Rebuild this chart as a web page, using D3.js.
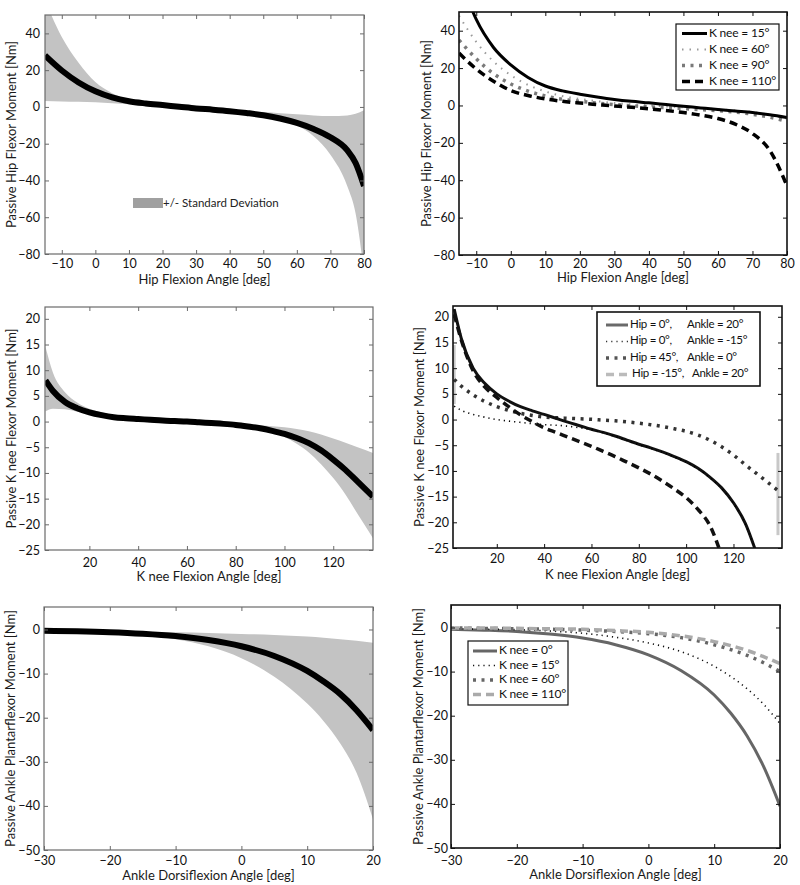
<!DOCTYPE html>
<html>
<head>
<meta charset="utf-8">
<script src="https://cdn.jsdelivr.net/npm/d3@7"></script>
<style>
  body { margin: 0; background: #fff; }
  svg { font-family: Lato, "Open Sans", sans-serif; }
</style>
</head>
<body>
<div id="chart"></div>
<script>
// ---- data ----
// hip, mean +/- sd
const hipX = [-15, -10, -5, 0, 5, 10, 15, 20, 25, 30, 35, 40, 45, 50, 55, 60, 65, 70, 75, 77.5, 80];
const hipMean = [28, 19.8, 13.3, 8.5, 5.2, 3.1, 1.9, 1, 0.1, -0.8, -1.5, -2.3, -3.3, -4.5, -6.3, -8.7, -12, -16.5, -23.5, -30.5, -43];
const hipUpper = [58, 38, 24, 13.5, 7.5, 4, 2.3, 1.3, 0.6, 0, -0.6, -1.3, -2, -2.8, -3.4, -4, -4.6, -5, -4.6, -3.7, -1.8];
const hipLower = [3.2, 3, 2.8, 2.5, 2, 1.5, 1, 0.4, -0.3, -1, -1.8, -2.8, -4, -5.5, -7.5, -10, -16, -26, -43, -58, -90];

// hip, by knee angle
const hipX2 = [-15, -10, -5, 0, 5, 10, 15, 20, 25, 30, 35, 40, 45, 50, 55, 60, 65, 70, 75, 80];
const hipKnee15 = [70, 46, 31, 21.7, 15, 10.4, 7.8, 6, 4.5, 3.2, 2.2, 1.4, 0.5, -0.4, -1.3, -2.2, -3, -3.8, -5, -6.5];
const hipKnee60 = [48, 34, 23.5, 16.2, 11, 7.5, 5, 3.5, 2.3, 1.3, 0.6, 0, -0.5, -1, -1.5, -2, -2.7, -3.5, -5, -7];
const hipKnee90 = [35, 25, 17, 11.5, 7.7, 5.1, 3.3, 2.2, 1.3, 0.5, -0.2, -0.8, -1.2, -1.7, -2.2, -2.8, -3.5, -4.7, -6.3, -8.5];
const hipKnee110 = [28, 19.5, 13, 8, 5.3, 3.5, 2.2, 1.3, 0.5, -0.3, -1, -1.8, -2.7, -3.8, -5.2, -7, -10, -15, -24, -43];
const hipKneeNames = ["K nee = 15°", "K nee = 60°", "K nee = 90°", "K nee = 110°"];

// knee, mean +/- sd
const kneeX = [2, 5, 10, 15, 20, 25, 30, 35, 40, 45, 50, 55, 60, 65, 70, 75, 80, 85, 90, 95, 100, 105, 110, 115, 120, 125, 130, 136.3];
const kneeMean = [8, 6, 3.8, 2.6, 1.8, 1.25, 0.85, 0.65, 0.5, 0.35, 0.2, 0.1, 0, -0.15, -0.3, -0.45, -0.65, -0.95, -1.3, -1.8, -2.4, -3.2, -4.2, -5.6, -7.4, -9.4, -11.7, -14.6];
const kneeUpper = [14.5, 9.6, 5.7, 3.7, 2.5, 1.8, 1.3, 1, 0.75, 0.55, 0.4, 0.25, 0.1, 0, -0.1, -0.25, -0.4, -0.55, -0.7, -0.9, -1.1, -1.45, -1.9, -2.5, -3.3, -4.1, -5, -6.1];
const kneeLower = [2, 2.5, 2.4, 1.9, 1.4, 1, 0.7, 0.5, 0.3, 0.15, 0, -0.1, -0.2, -0.35, -0.5, -0.7, -0.9, -1.2, -1.6, -2.2, -3, -4.3, -6, -8.3, -11, -14.2, -18, -22.7];

// knee, by hip / ankle angle
const kneeX2 = [2, 5, 10, 15, 20, 25, 30, 35, 40, 45, 50, 55, 60, 65, 70, 75, 80, 85, 90, 95, 100, 105, 110, 115, 120, 125, 130, 135, 139];
const kneeH0A20 = [21.5, 15.8, 10, 7, 5, 3.6, 2.5, 1.7, 1, 0.25, -0.5, -1.2, -1.9, -2.5, -3.2, -4, -4.8, -5.5, -6.3, -7.2, -8.2, -9.5, -11.2, -13.3, -16.2, -20.2, -26.4, null, null];
const kneeH0Am15 = [2.6, 1.8, 1, 0.45, 0, -0.3, -0.55, -0.8, -1, -1.1, -1.3, -1.6, -2, -2.6, -3.3, -4.1, -4.9, -5.6, -6.4, -7.3, -8.3, -9.6, -11.3, -13.4, -16.3, -20.3, -26.5, null, null];
const kneeH45A0 = [7.8, 6.5, 4.8, 3.5, 2.5, 1.8, 1.2, 0.8, 0.5, 0.35, 0.25, 0.15, 0.05, -0.1, -0.25, -0.45, -0.7, -1, -1.35, -1.8, -2.3, -3, -4, -5.3, -6.9, -8.8, -10.6, -12.4, -13.9];
const kneeHm15A20 = [20.5, 15.5, 9.5, 6.3, 4.3, 2.5, 0.9, -0.4, -1.6, -2.5, -3.4, -4.3, -5.2, -6.2, -7.2, -8.3, -9.4, -10.6, -12, -13.5, -15.2, -17.5, -20.6, -26.5, null, null, null, null, null];
const kneeEdgeX = [2, 138.8];      // stray grey bars at both edges of the plot
const kneeEdgeTop = [14.5, -6.5];
const kneeEdgeBottom = [3, -22.5];
const kneeHipNames = ["Hip = 0°,", "Hip = 0°,", "Hip = 45°,", "Hip = -15°,"];
const kneeAnkleNames = ["Ankle = 20°", "Ankle = -15°", "Ankle = 0°", "Ankle = 20°"];

// ankle, mean +/- sd
const ankleX = [-30, -25, -20, -15, -10, -5, 0, 5, 10, 12.5, 15, 17.5, 20];
const ankleMean = [-0.3, -0.4, -0.6, -0.95, -1.5, -2.4, -3.8, -6, -9.4, -11.8, -14.6, -18.3, -22.8];
const ankleUpper = [-0.2, -0.3, -0.4, -0.5, -0.65, -0.8, -1, -1.25, -1.6, -1.85, -2.2, -2.55, -3];
const ankleLower = [-0.4, -0.5, -0.8, -1.3, -2.2, -3.8, -6.5, -10.7, -16.8, -20.8, -25.8, -32.5, -43];

// ankle, by knee angle
const ankleKnee0 = [-0.4, -0.6, -0.9, -1.5, -2.4, -3.9, -6.2, -9.8, -15.3, -19.4, -24.6, -31.5, -40.5];
const ankleKnee15 = [-0.3, -0.4, -0.5, -0.8, -1.3, -2.2, -3.5, -5.5, -8.8, -11.1, -13.9, -17.4, -21.8];
const ankleKnee60 = [-0.1, -0.2, -0.3, -0.4, -0.6, -0.9, -1.4, -2.3, -3.9, -5, -6.3, -8, -10];
const ankleKnee110 = [-0.1, -0.1, -0.2, -0.3, -0.4, -0.7, -1.1, -1.9, -3.2, -4.1, -5.2, -6.6, -8.2];
const ankleKneeNames = ["K nee = 0°", "K nee = 15°", "K nee = 60°", "K nee = 110°"];

// ---- line styles ----
const solid = { dash: null, width: 3 };
const fineDot = { dash: "1.2,4", width: 1.6 };
const bigDot = { dash: "3,5.5", width: 3.5 };
const dashed = { dash: "8,5", width: 3.5 };
const lightDot = { dash: "1.5,6", width: 2 };

const svg = d3.select("#chart").append("svg")
    .attr("width", 800)
    .attr("height", 885);

let clipId = 0;

function panel(p) {
    const [l, t, r, b] = p.box;
    const x = d3.scaleLinear().domain(p.xDomain).range([l, r]);
    const y = d3.scaleLinear().domain(p.yDomain).range([b, t]);
    const g = svg.append("g");

    const id = "clip" + (clipId++);
    g.append("clipPath").attr("id", id)
        .append("rect").attr("x", l).attr("y", t).attr("width", r - l).attr("height", b - t);
    const plot = g.append("g").attr("clip-path", "url(#" + id + ")");

    if (p.band) {
        const area = d3.area()
            .x((d, i) => x(p.xs[i]))
            .y0((d, i) => y(p.band[1][i]))
            .y1((d, i) => y(p.band[0][i]))
            .curve(d3.curveMonotoneX);
        plot.append("path").datum(p.xs).attr("d", area).attr("fill", "#c3c3c3");
    }

    if (p.edges) {
        p.edges.x.forEach((ex, i) => {
            plot.append("line")
                .attr("x1", x(ex)).attr("x2", x(ex))
                .attr("y1", y(p.edges.top[i])).attr("y2", y(p.edges.bottom[i]))
                .attr("stroke", "#c8c8c8").attr("stroke-width", 3);
        });
    }

    p.series.forEach(s => {
        const line = d3.line()
            .defined(d => d != null)
            .x((d, i) => x(p.xs[i]))
            .y(d => y(d))
            .curve(d3.curveMonotoneX);
        plot.append("path").datum(s.values)
            .attr("d", line)
            .attr("fill", "none")
            .attr("stroke", s.color)
            .attr("stroke-width", s.style.width)
            .attr("stroke-dasharray", s.style.dash);
    });

    // axes, ticks pointing inward on all four sides
    const tick = 4;
    const bottom = g.append("g").attr("transform", "translate(0," + b + ")")
        .call(d3.axisBottom(x).tickValues(p.xTicks).tickSizeInner(-tick).tickSizeOuter(0).tickPadding(p.xPad));
    const left = g.append("g").attr("transform", "translate(" + l + ",0)")
        .call(d3.axisLeft(y).tickValues(p.yTicks).tickSizeInner(-tick).tickSizeOuter(0).tickPadding(p.yPad));
    const top = g.append("g").attr("transform", "translate(0," + t + ")")
        .call(d3.axisTop(x).tickValues(p.xTicks).tickSizeInner(-tick).tickSizeOuter(0).tickFormat(""));
    const right = g.append("g").attr("transform", "translate(" + r + ",0)")
        .call(d3.axisRight(y).tickValues(p.yTicks).tickSizeInner(-tick).tickSizeOuter(0).tickFormat(""));

    [bottom, left, top, right].forEach(a => {
        a.select(".domain").remove();
        a.selectAll("line").attr("stroke", p.boxColor).attr("stroke-width", 1);
        a.selectAll("text").attr("fill", "#111").style("font-size", "12.5px").style("font-family", "Lato, sans-serif");
    });

    g.append("rect")
        .attr("x", l).attr("y", t).attr("width", r - l).attr("height", b - t)
        .attr("fill", "none")
        .attr("stroke", p.boxColor)
        .attr("stroke-width", p.boxWidth);

    g.append("text")
        .attr("x", (l + r) / 2)
        .attr("y", b + p.xLabelDy)
        .attr("text-anchor", "middle")
        .attr("dominant-baseline", "middle")
        .style("font-size", "13px")
        .attr("fill", "#1a1a1a")
        .text(p.xLabel);

    g.append("text")
        .attr("transform", "translate(" + p.yLabelX + "," + (t + b) / 2 + ") rotate(-90)")
        .attr("text-anchor", "middle")
        .attr("dominant-baseline", "middle")
        .style("font-size", "13px")
        .attr("fill", "#1a1a1a")
        .text(p.yLabel);

    return g;
}

function legend(g, lg) {
    const [l, t, r, b] = lg.box;
    g.append("rect")
        .attr("x", l).attr("y", t).attr("width", r - l).attr("height", b - t)
        .attr("fill", "#fff").attr("stroke", "#111").attr("stroke-width", lg.stroke);
    lg.items.forEach((it, i) => {
        const yy = lg.rows[i];
        g.append("line")
            .attr("x1", lg.lineX[0]).attr("x2", lg.lineX[1])
            .attr("y1", yy).attr("y2", yy)
            .attr("stroke", it.color)
            .attr("stroke-width", it.style.width)
            .attr("stroke-dasharray", it.style.dash);
        it.texts.forEach((tx, j) => {
            g.append("text")
                .attr("x", it.textX[j]).attr("y", yy)
                .attr("dominant-baseline", "middle")
                .style("font-size", lg.fontSize)
                .style("letter-spacing", lg.spacing || "0px")
                .attr("fill", "#111")
                .text(tx);
        });
    });
}

// ---- top left ----
const g1 = panel({
    box: [45, 15, 364, 254],
    xDomain: [-15, 80], yDomain: [-80, 50],
    xTicks: d3.range(-10, 81, 10), yTicks: d3.range(-80, 41, 20),
    xs: hipX, band: [hipUpper, hipLower],
    series: [{ values: hipMean, color: "#000", style: { dash: null, width: 6 } }],
    boxColor: "#6a6a6a", boxWidth: 1.2, xPad: 5, yPad: 5,
    xLabel: "Hip Flexion Angle [deg]", xLabelDy: 27, yLabel: "Passive Hip Flexor Moment [Nm]", yLabelX: 13
});
g1.append("rect").attr("x", 133).attr("y", 198).attr("width", 30).attr("height", 10).attr("fill", "#a0a0a0");
g1.append("text").attr("x", 163).attr("y", 204).attr("dominant-baseline", "middle")
    .style("font-size", "11.5px").attr("fill", "#222").text("+/- Standard Deviation");

// ---- top right ----
const g2 = panel({
    box: [459, 12, 787, 255],
    xDomain: [-15, 80], yDomain: [-80, 50],
    xTicks: d3.range(-10, 81, 10), yTicks: d3.range(-80, 41, 20),
    xs: hipX2,
    series: [
        { values: hipKnee60, color: "#9a9a9a", style: lightDot },
        { values: hipKnee90, color: "#7a7a7a", style: bigDot },
        { values: hipKnee110, color: "#000", style: dashed },
        { values: hipKnee15, color: "#000", style: solid }
    ],
    boxColor: "#111", boxWidth: 1.6, xPad: 4, yPad: 4,
    xLabel: "Hip Flexion Angle [deg]", xLabelDy: 24, yLabel: "Passive Hip Flexor Moment [Nm]", yLabelX: 428
});
legend(g2, {
    box: [676, 24, 779, 90], stroke: 1.2, fontSize: "12px", spacing: "-0.2px",
    rows: [33.5, 49.5, 65.5, 81.5], lineX: [682, 707],
    items: [
        { color: "#000", style: solid, texts: [hipKneeNames[0]], textX: [709] },
        { color: "#9a9a9a", style: lightDot, texts: [hipKneeNames[1]], textX: [709] },
        { color: "#7a7a7a", style: bigDot, texts: [hipKneeNames[2]], textX: [709] },
        { color: "#000", style: dashed, texts: [hipKneeNames[3]], textX: [709] }
    ]
});

// ---- middle left ----
panel({
    box: [45, 307, 373, 550],
    xDomain: [1.8, 136.3], yDomain: [-25, 22.3],
    xTicks: d3.range(20, 121, 20), yTicks: d3.range(-25, 21, 5),
    xs: kneeX, band: [kneeUpper, kneeLower],
    series: [{ values: kneeMean, color: "#000", style: { dash: null, width: 6 } }],
    boxColor: "#6a6a6a", boxWidth: 1.2, xPad: 8, yPad: 5,
    xLabel: "K nee Flexion Angle [deg]", xLabelDy: 28, yLabel: "Passive K nee Flexor Moment [Nm]", yLabelX: 13
});

// ---- middle right ----
const g4 = panel({
    box: [453, 306, 782, 548],
    xDomain: [1.5, 140.5], yDomain: [-25, 22.1],
    xTicks: d3.range(20, 121, 20), yTicks: d3.range(-25, 21, 5),
    xs: kneeX2,
    edges: { x: kneeEdgeX, top: kneeEdgeTop, bottom: kneeEdgeBottom },
    series: [
        { values: kneeH45A0, color: "#333", style: bigDot },
        { values: kneeHm15A20, color: "#111", style: dashed },
        { values: kneeH0A20, color: "#111", style: solid },
        { values: kneeH0Am15, color: "#000", style: fineDot }
    ],
    boxColor: "#111", boxWidth: 1.6, xPad: 6, yPad: 4,
    xLabel: "K nee Flexion Angle [deg]", xLabelDy: 28, yLabel: "Passive K nee Flexor Moment [Nm]", yLabelX: 421
});
legend(g4, {
    box: [597, 312, 760, 386], stroke: 1.6, fontSize: "11.5px", spacing: "-0.3px",
    rows: [325, 341.5, 358, 374.5], lineX: [606, 628],
    items: [
        { color: "#6a6a6a", style: solid, texts: [kneeHipNames[0], kneeAnkleNames[0]], textX: [630, 687] },
        { color: "#333", style: fineDot, texts: [kneeHipNames[1], kneeAnkleNames[1]], textX: [630, 687] },
        { color: "#555", style: bigDot, texts: [kneeHipNames[2], kneeAnkleNames[2]], textX: [630, 687] },
        { color: "#bbb", style: dashed, texts: [kneeHipNames[3], kneeAnkleNames[3]], textX: [632, 692] }
    ]
});

// ---- bottom left ----
panel({
    box: [44, 607, 373, 850],
    xDomain: [-30, 20], yDomain: [-50, 5.1],
    xTicks: d3.range(-30, 21, 10), yTicks: d3.range(-50, 1, 10),
    xs: ankleX, band: [ankleUpper, ankleLower],
    series: [{ values: ankleMean, color: "#000", style: { dash: null, width: 6 } }],
    boxColor: "#6a6a6a", boxWidth: 1.2, xPad: 6, yPad: 4,
    xLabel: "Ankle Dorsiflexion Angle [deg]", xLabelDy: 27, yLabel: "Passive Ankle Plantarflexor Moment [Nm]", yLabelX: 12
});

// ---- bottom right ----
const g6 = panel({
    box: [451, 605, 780, 848],
    xDomain: [-30, 20], yDomain: [-50, 5.1],
    xTicks: d3.range(-30, 21, 10), yTicks: d3.range(-50, 1, 10),
    xs: ankleX,
    series: [
        { values: ankleKnee0, color: "#666", style: solid },
        { values: ankleKnee15, color: "#111", style: fineDot },
        { values: ankleKnee60, color: "#666", style: bigDot },
        { values: ankleKnee110, color: "#aaa", style: dashed }
    ],
    boxColor: "#111", boxWidth: 1.6, xPad: 8, yPad: 3,
    xLabel: "Ankle Dorsiflexion Angle [deg]", xLabelDy: 28, yLabel: "Passive Ankle Plantarflexor Moment [Nm]", yLabelX: 420
});
legend(g6, {
    box: [468, 641, 568, 705], stroke: 1.2, fontSize: "12px", spacing: "-0.2px",
    rows: [651, 665.5, 680, 694.5], lineX: [473, 497],
    items: [
        { color: "#666", style: solid, texts: [ankleKneeNames[0]], textX: [499] },
        { color: "#111", style: fineDot, texts: [ankleKneeNames[1]], textX: [499] },
        { color: "#666", style: bigDot, texts: [ankleKneeNames[2]], textX: [499] },
        { color: "#aaa", style: dashed, texts: [ankleKneeNames[3]], textX: [499] }
    ]
});
</script>
</body>
</html>
